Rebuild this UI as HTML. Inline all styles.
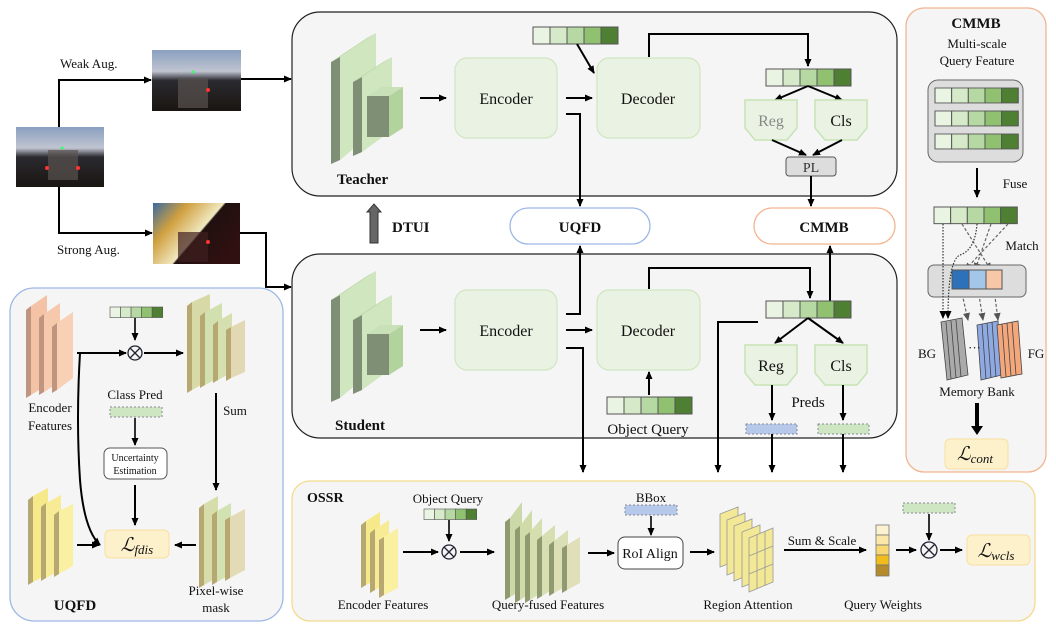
<!DOCTYPE html>
<html><head><meta charset="utf-8"><style>
html,body{margin:0;padding:0;background:#fff}
svg{display:block}
text{font-family:"Liberation Serif",serif;fill:#111}
.b{font-weight:bold}
</style></head><body>
<svg width="1056" height="629" viewBox="0 0 1056 629" xmlns="http://www.w3.org/2000/svg">
<defs>
<marker id="a" markerWidth="8" markerHeight="8" refX="7" refY="4" orient="auto" markerUnits="userSpaceOnUse"><path d="M0,0.5 L8,4 L0,7.5 Z" fill="#000"/></marker>
<marker id="ag" markerWidth="8" markerHeight="8" refX="7" refY="4" orient="auto" markerUnits="userSpaceOnUse"><path d="M0,0.5 L8,4 L0,7.5 Z" fill="#555"/></marker>
<g id="qb">
<rect x="0" y="0" width="17" height="17" fill="#eaf4e3" stroke="#555"/>
<rect x="17" y="0" width="17" height="17" fill="#d6eaca" stroke="#555"/>
<rect x="34" y="0" width="17" height="17" fill="#b6d8a2" stroke="#555"/>
<rect x="51" y="0" width="17" height="17" fill="#8fc171" stroke="#555"/>
<rect x="68" y="0" width="17" height="17" fill="#4e7f32" stroke="#555"/>
</g>
<g id="bb">
<polygon points="0,32 9,27 9,130 0,134" fill="#7e8f76"/>
<polygon points="0,32 36,8 45,3 9,27" fill="#b9d7a6"/>
<polygon points="9,27 45,3 45,100 9,130" fill="#cfe6bf"/>
<polygon points="22,52 31,47 31,122 22,126" fill="#7e8f76"/>
<polygon points="22,52 52,32 61,27 31,47" fill="#b9d7a6"/>
<polygon points="31,47 61,27 61,100 31,122" fill="#cfe6bf"/>
<polygon points="36,66 50,57 72,57 58,66" fill="#c8e1b6"/>
<polygon points="58,66 72,57 72,98 58,107" fill="#b3d39e"/>
<rect x="36" y="66" width="22" height="41" fill="#7e8f76"/>
</g>
<g id="head">
<polygon points="0,0 52,0 52,28 42,40 10,40 0,28" fill="#eaf3e3" stroke="#c7e3b5" stroke-width="1.5"/>
</g>
<linearGradient id="img1" x1="0" y1="0" x2="0" y2="1"><stop offset="0" stop-color="#8aa0c0"/><stop offset="0.35" stop-color="#c0c4d0"/><stop offset="0.5" stop-color="#2a2a30"/><stop offset="1" stop-color="#1a1510"/></linearGradient>
<linearGradient id="img2" x1="0" y1="0" x2="1" y2="0.6"><stop offset="0" stop-color="#3a6aa0"/><stop offset="0.3" stop-color="#d0a040"/><stop offset="0.6" stop-color="#f0e8c0"/><stop offset="0.62" stop-color="#201010"/><stop offset="1" stop-color="#301010"/></linearGradient>
</defs>

<!-- input images -->
<rect x="16" y="127" width="88" height="60" fill="url(#img1)"/>
<rect x="48" y="150" width="30" height="30" fill="#5a5250" opacity="0.7"/>
<circle cx="47" cy="168" r="2" fill="#f33"/><circle cx="78" cy="168" r="2" fill="#f33"/><circle cx="62" cy="148" r="1.5" fill="#3f6"/>
<rect x="152" y="50" width="89" height="61" fill="url(#img1)"/>
<rect x="178" y="78" width="30" height="30" fill="#5a5250" opacity="0.7"/>
<circle cx="208" cy="90" r="2" fill="#f33"/><circle cx="193" cy="72" r="1.5" fill="#3f6"/>
<rect x="153" y="203" width="87" height="61" fill="url(#img2)"/>
<rect x="178" y="232" width="30" height="30" fill="#402020" opacity="0.7"/>
<circle cx="208" cy="242" r="2" fill="#f33"/>
<text x="60" y="68" font-size="13">Weak Aug.</text>
<text x="57" y="254" font-size="13">Strong Aug.</text>
<polyline points="59,127 59,80 151,80" fill="none" stroke="#000" stroke-width="2" marker-end="url(#a)"/>
<polyline points="59,187 59,233 152,233" fill="none" stroke="#000" stroke-width="2" marker-end="url(#a)"/>
<line x1="241" y1="79" x2="291" y2="79" stroke="#000" stroke-width="2" marker-end="url(#a)"/>
<polyline points="240,233 266,233 266,287 291,287" fill="none" stroke="#000" stroke-width="2" marker-end="url(#a)"/>

<!-- Teacher -->
<rect x="292" y="12" width="605" height="184" rx="28" fill="#f5f5f5" stroke="#222" stroke-width="1.2"/>
<use href="#bb" x="331" y="30"/>
<text x="337" y="184" font-size="15" class="b">Teacher</text>
<line x1="420" y1="98" x2="446" y2="98" stroke="#000" stroke-width="2" marker-end="url(#a)"/>
<rect x="455" y="58" width="102" height="80" rx="12" fill="#eaf2e4" stroke="#cfe6c0" stroke-width="1.2"/>
<text x="506" y="104" font-size="16" text-anchor="middle">Encoder</text>
<line x1="566" y1="98" x2="592" y2="98" stroke="#000" stroke-width="2" marker-end="url(#a)"/>
<rect x="597" y="58" width="103" height="80" rx="12" fill="#eaf2e4" stroke="#cfe6c0" stroke-width="1.2"/>
<text x="648" y="104" font-size="16" text-anchor="middle">Decoder</text>
<use href="#qb" x="533" y="27"/>
<line x1="577" y1="44" x2="594" y2="73" stroke="#000" stroke-width="2" marker-end="url(#a)"/>
<polyline points="649,57 649,34 808,34 808,66" fill="none" stroke="#000" stroke-width="2" marker-end="url(#a)"/>
<polyline points="566,114 580,114 580,206" fill="none" stroke="#000" stroke-width="2" marker-end="url(#a)"/>
<use href="#qb" x="766" y="69"/>
<line x1="808" y1="86" x2="775" y2="100" stroke="#000" stroke-width="2" marker-end="url(#a)"/>
<line x1="808" y1="86" x2="842" y2="100" stroke="#000" stroke-width="2" marker-end="url(#a)"/>
<use href="#head" x="745" y="100"/>
<use href="#head" x="815" y="100"/>
<text x="771" y="126" font-size="16" text-anchor="middle" style="fill:#888">Reg</text>
<text x="841" y="126" font-size="16" text-anchor="middle">Cls</text>
<line x1="772" y1="140" x2="806" y2="155" stroke="#000" stroke-width="2" marker-end="url(#a)"/>
<line x1="842" y1="140" x2="813" y2="155" stroke="#000" stroke-width="2" marker-end="url(#a)"/>
<rect x="786" y="157" width="50" height="19" rx="3" fill="#ddd" stroke="#555"/>
<text x="811" y="172" font-size="14" text-anchor="middle" style="fill:#333">PL</text>
<line x1="811" y1="176" x2="811" y2="206" stroke="#000" stroke-width="2" marker-end="url(#a)"/>

<!-- middle -->
<rect x="510" y="208" width="140" height="36" rx="18" fill="#fff" stroke="#9db8e6" stroke-width="1.3"/>
<text x="580" y="232" font-size="15" class="b" text-anchor="middle">UQFD</text>
<rect x="754" y="208" width="141" height="36" rx="18" fill="#fff" stroke="#f3b48f" stroke-width="1.3"/>
<text x="824" y="232" font-size="15" class="b" text-anchor="middle">CMMB</text>
<polygon points="370,243 370,212 367,212 374,204 381,212 378,212 378,243" fill="#666" stroke="#333"/>
<text x="392" y="232" font-size="15" class="b">DTUI</text>

<!-- Student -->
<rect x="292" y="254" width="605" height="184" rx="28" fill="#f5f5f5" stroke="#222" stroke-width="1.2"/>
<use href="#bb" x="331" y="268"/>
<text x="335" y="430" font-size="15" class="b">Student</text>
<line x1="420" y1="330" x2="446" y2="330" stroke="#000" stroke-width="2" marker-end="url(#a)"/>
<rect x="455" y="290" width="102" height="80" rx="12" fill="#eaf2e4" stroke="#cfe6c0" stroke-width="1.2"/>
<text x="506" y="336" font-size="16" text-anchor="middle">Encoder</text>
<line x1="566" y1="330" x2="592" y2="330" stroke="#000" stroke-width="2" marker-end="url(#a)"/>
<rect x="597" y="290" width="103" height="80" rx="12" fill="#eaf2e4" stroke="#cfe6c0" stroke-width="1.2"/>
<text x="648" y="336" font-size="16" text-anchor="middle">Decoder</text>
<polyline points="566,314 580,314 580,246" fill="none" stroke="#000" stroke-width="2" marker-end="url(#a)"/>
<polyline points="566,348 583,348 583,472" fill="none" stroke="#000" stroke-width="2" marker-end="url(#a)"/>
<polyline points="649,289 649,268 810,268 810,298" fill="none" stroke="#000" stroke-width="2" marker-end="url(#a)"/>
<line x1="830" y1="301" x2="830" y2="246" stroke="#000" stroke-width="2" marker-end="url(#a)"/>
<use href="#qb" x="766" y="301"/>
<polyline points="758,322 718,322 718,472" fill="none" stroke="#000" stroke-width="2" marker-end="url(#a)"/>
<line x1="808" y1="318" x2="775" y2="343" stroke="#000" stroke-width="2" marker-end="url(#a)"/>
<line x1="808" y1="318" x2="843" y2="343" stroke="#000" stroke-width="2" marker-end="url(#a)"/>
<use href="#head" x="745" y="345"/>
<use href="#head" x="815" y="345"/>
<text x="771" y="371" font-size="16" text-anchor="middle">Reg</text>
<text x="841" y="371" font-size="16" text-anchor="middle">Cls</text>
<text x="808" y="407" font-size="15" text-anchor="middle">Preds</text>
<line x1="772" y1="385" x2="772" y2="420" stroke="#000" stroke-width="2" marker-end="url(#a)"/>
<line x1="843" y1="385" x2="843" y2="420" stroke="#000" stroke-width="2" marker-end="url(#a)"/>
<rect x="746" y="424" width="51" height="10" fill="#b7c9ea" stroke="#889" stroke-dasharray="2,2"/>
<rect x="818" y="424" width="51" height="10" fill="#cfe6c3" stroke="#889" stroke-dasharray="2,2"/>
<line x1="772" y1="434" x2="772" y2="472" stroke="#000" stroke-width="2" marker-end="url(#a)"/>
<line x1="843" y1="434" x2="843" y2="472" stroke="#000" stroke-width="2" marker-end="url(#a)"/>
<use href="#qb" x="607" y="397"/>
<line x1="649" y1="395" x2="649" y2="372" stroke="#000" stroke-width="2" marker-end="url(#a)"/>
<text x="648" y="434" font-size="15" text-anchor="middle">Object Query</text>

<!-- UQFD panel -->
<rect x="10" y="288" width="273" height="333" rx="24" fill="#f5f5f5" stroke="#9db8e6" stroke-width="1.3"/>
<g>
<polygon points="26,310 31,306 31,395 26,398" fill="#c09580"/><polygon points="31,306 47,295 47,385 31,395" fill="#f4c3a6"/>
<polygon points="39,318 44,314 44,392 39,395" fill="#c09580"/><polygon points="44,314 60,303 60,382 44,392" fill="#f6c9ad"/>
<polygon points="52,327 57,323 57,390 52,393" fill="#c09580"/><polygon points="57,323 73,312 73,378 57,390" fill="#f8d0b5"/>
</g>
<text x="50" y="412" font-size="13" text-anchor="middle">Encoder</text>
<text x="50" y="430" font-size="13" text-anchor="middle">Features</text>
<g transform="translate(110,307) scale(0.62)"><use href="#qb"/></g>
<line x1="135" y1="318" x2="135" y2="340" stroke="#000" stroke-width="1.6" marker-end="url(#a)"/>
<circle cx="135" cy="353" r="7" fill="none" stroke="#223" stroke-width="1.3"/>
<path d="M130,348 L140,358 M140,348 L130,358" stroke="#223" stroke-width="1.3"/>
<line x1="77" y1="353" x2="126" y2="353" stroke="#000" stroke-width="2" marker-end="url(#a)"/>
<path d="M80,353 Q76,420 80,480 Q84,530 100,545" fill="none" stroke="#000" stroke-width="2" marker-end="url(#a)"/>
<line x1="144" y1="353" x2="183" y2="353" stroke="#000" stroke-width="2" marker-end="url(#a)"/>
<g>
<polygon points="187,306 192,302 192,390 187,393" fill="#b6a870"/><polygon points="192,302 210,294 210,380 192,390" fill="#d7d9a6"/>
<polygon points="200,316 205,312 205,385 200,388" fill="#b6a870"/><polygon points="205,312 222,303 222,376 205,385" fill="#d2e0b0"/>
<polygon points="213,325 218,321 218,380 213,383" fill="#b6a870"/><polygon points="218,321 232,313 232,372 218,380" fill="#d6dfb0"/>
<polygon points="226,330 231,327 231,378 226,381" fill="#b6a870"/><polygon points="231,327 245,320 245,372 231,378" fill="#e2d9b4"/>
</g>
<text x="235" y="415" font-size="13" text-anchor="middle">Sum</text>
<line x1="216" y1="393" x2="216" y2="490" stroke="#000" stroke-width="2" marker-end="url(#a)"/>
<text x="135" y="399" font-size="13" text-anchor="middle">Class Pred</text>
<rect x="110" y="407" width="52" height="10" fill="#cfe6c3" stroke="#889" stroke-dasharray="2,2"/>
<line x1="135" y1="418" x2="135" y2="445" stroke="#000" stroke-width="1.6" marker-end="url(#a)"/>
<rect x="104" y="448" width="63" height="31" rx="6" fill="#fff" stroke="#555"/>
<text x="135" y="461" font-size="10" text-anchor="middle">Uncertainty</text>
<text x="135" y="474" font-size="10" text-anchor="middle">Estimation</text>
<line x1="135" y1="485" x2="135" y2="525" stroke="#000" stroke-width="2" marker-end="url(#a)"/>
<rect x="105" y="530" width="64" height="28" rx="5" fill="#fdf1cc" stroke="#f7e0a0"/>
<text x="137" y="551" font-size="19" text-anchor="middle" font-style="italic">ℒ<tspan font-size="13" dy="3">fdis</tspan></text>
<g>
<polygon points="28,500 33,496 33,582 28,585" fill="#b6a870"/><polygon points="33,496 48,488 48,574 33,582" fill="#f6e98a"/>
<polygon points="41,507 46,503 46,578 41,581" fill="#b6a870"/><polygon points="46,503 61,495 61,570 46,578" fill="#f7ec95"/>
<polygon points="54,515 59,511 59,574 54,577" fill="#b6a870"/><polygon points="59,511 73,504 73,566 59,574" fill="#faf0a2"/>
</g>
<line x1="77" y1="545" x2="99" y2="545" stroke="#000" stroke-width="2" marker-end="url(#a)"/>
<line x1="196" y1="545" x2="175" y2="545" stroke="#000" stroke-width="2" marker-end="url(#a)"/>
<g>
<polygon points="199,508 204,504 204,585 199,588" fill="#b6a870"/><polygon points="204,504 218,496 218,577 204,585" fill="#d6ddaa"/>
<polygon points="212,515 217,511 217,582 212,585" fill="#b6a870"/><polygon points="217,511 231,503 231,574 217,582" fill="#d3e2b2"/>
<polygon points="225,520 230,517 230,578 225,581" fill="#b6a870"/><polygon points="230,517 245,509 245,570 230,578" fill="#e2dbb6"/>
</g>
<text x="216" y="595" font-size="13" text-anchor="middle">Pixel-wise</text>
<text x="216" y="612" font-size="13" text-anchor="middle">mask</text>
<text x="75" y="610" font-size="15" class="b" text-anchor="middle">UQFD</text>

<!-- OSSR -->
<rect x="292" y="481" width="743" height="140" rx="18" fill="#f5f5f5" stroke="#f5da8e" stroke-width="1.3"/>
<text x="307" y="502" font-size="14" class="b">OSSR</text>
<text x="448" y="503" font-size="13" text-anchor="middle">Object Query</text>
<g transform="translate(424,509) scale(0.62)"><use href="#qb"/></g>
<line x1="449" y1="520" x2="449" y2="541" stroke="#000" stroke-width="1.6" marker-end="url(#a)"/>
<circle cx="449" cy="552" r="7" fill="none" stroke="#223" stroke-width="1.3"/>
<path d="M444,547 L454,557 M454,547 L444,557" stroke="#223" stroke-width="1.3"/>
<g>
<polygon points="361,525 366,521 366,585 361,588" fill="#b6a870"/><polygon points="366,521 380,512 380,578 366,585" fill="#f6e98a"/>
<polygon points="370,533 375,529 375,590 370,593" fill="#b6a870"/><polygon points="375,529 389,520 389,582 375,590" fill="#f7ec95"/>
<polygon points="379,540 384,537 384,595 379,598" fill="#b6a870"/><polygon points="384,537 398,528 398,588 384,595" fill="#faf0a2"/>
</g>
<line x1="403" y1="552" x2="438" y2="552" stroke="#000" stroke-width="2" marker-end="url(#a)"/>
<line x1="460" y1="552" x2="494" y2="552" stroke="#000" stroke-width="2" marker-end="url(#a)"/>
<text x="383" y="609" font-size="13" text-anchor="middle">Encoder Features</text>
<g>
<polygon points="505,522 510,518 510,597 505,600" fill="#8f9a70"/><polygon points="510,518 522,502 522,590 510,597" fill="#cbd9a8"/>
<polygon points="515,530 520,526 520,600 515,603" fill="#8f9a70"/><polygon points="520,526 532,510 532,592 520,600" fill="#cfdcaa"/>
<polygon points="525,536 530,532 530,600 525,603" fill="#8f9a70"/><polygon points="530,532 542,518 542,592 530,600" fill="#d4dfb0"/>
<polygon points="537,540 542,536 542,596 537,599" fill="#8f9a70"/><polygon points="542,536 555,525 555,588 542,596" fill="#d6deb2"/>
<polygon points="549,545 554,541 554,593 549,596" fill="#8f9a70"/><polygon points="554,541 568,530 568,585 554,593" fill="#dadfb6"/>
<polygon points="562,548 567,545 567,590 562,593" fill="#8f9a70"/><polygon points="567,545 580,537 580,583 567,590" fill="#e0dfba"/>
</g>
<text x="548" y="609" font-size="13" text-anchor="middle">Query-fused Features</text>
<line x1="588" y1="553" x2="614" y2="553" stroke="#000" stroke-width="2" marker-end="url(#a)"/>
<text x="651" y="502" font-size="13" text-anchor="middle">BBox</text>
<rect x="625" y="505" width="52" height="10" fill="#b7c9ea" stroke="#889" stroke-dasharray="2,2"/>
<line x1="651" y1="516" x2="651" y2="535" stroke="#000" stroke-width="1.6" marker-end="url(#a)"/>
<rect x="618" y="537" width="65" height="32" rx="7" fill="#fff" stroke="#444"/>
<text x="650" y="558" font-size="14" text-anchor="middle">RoI Align</text>
<line x1="690" y1="552" x2="714" y2="552" stroke="#000" stroke-width="2" marker-end="url(#a)"/>
<g stroke="#999" stroke-width="0.8">
<polygon points="720,514 738,507 738,560 720,567" fill="#f2e896"/>
<polygon points="727,520 745,513 745,568 727,575" fill="#f2e896"/>
<polygon points="734,526 752,519 752,574 734,581" fill="#f2e896"/>
<polygon points="742,532 760,525 760,580 742,587" fill="#f2e896"/>
<polygon points="749,538 773,528 773,582 749,592" fill="#f2e896"/>
<path d="M757,535 L757,589 M765,531 L765,586 M749,556 L773,546 M749,574 L773,564" fill="none"/>
</g>
<text x="748" y="609" font-size="13" text-anchor="middle">Region Attention</text>
<text x="822" y="545" font-size="13" text-anchor="middle">Sum &amp; Scale</text>
<line x1="784" y1="550" x2="866" y2="550" stroke="#000" stroke-width="2" marker-end="url(#a)"/>
<g stroke="#777" stroke-width="0.8">
<rect x="876" y="525" width="13" height="10" fill="#fcf2cf"/>
<rect x="876" y="535" width="13" height="10" fill="#fbe7a8"/>
<rect x="876" y="545" width="13" height="10" fill="#f8d873"/>
<rect x="876" y="555" width="13" height="10" fill="#f0bd1c"/>
<rect x="876" y="565" width="13" height="11" fill="#b58a2b"/>
</g>
<text x="883" y="609" font-size="13" text-anchor="middle">Query Weights</text>
<line x1="896" y1="550" x2="916" y2="550" stroke="#000" stroke-width="2" marker-end="url(#a)"/>
<rect x="903" y="503" width="52" height="10" fill="#cfe6c3" stroke="#889" stroke-dasharray="2,2"/>
<line x1="929" y1="514" x2="929" y2="540" stroke="#000" stroke-width="1.6" marker-end="url(#a)"/>
<circle cx="929" cy="550" r="8" fill="none" stroke="#223" stroke-width="1.3"/>
<path d="M923,544 L935,556 M935,544 L923,556" stroke="#223" stroke-width="1.3"/>
<line x1="940" y1="550" x2="962" y2="550" stroke="#000" stroke-width="2" marker-end="url(#a)"/>
<rect x="967" y="535" width="63" height="30" rx="5" fill="#fdf1cc" stroke="#f7e0a0"/>
<text x="996" y="557" font-size="19" text-anchor="middle" font-style="italic">ℒ<tspan font-size="13" dy="3">wcls</tspan></text>

<!-- CMMB panel -->
<rect x="906" y="8" width="140" height="464" rx="18" fill="#f5f5f5" stroke="#f3b48f" stroke-width="1.3"/>
<text x="976" y="28" font-size="15" class="b" text-anchor="middle">CMMB</text>
<text x="977" y="48" font-size="13" text-anchor="middle">Multi-scale</text>
<text x="977" y="65" font-size="13" text-anchor="middle">Query Feature</text>
<rect x="928" y="80" width="95" height="82" rx="10" fill="#ddd" stroke="#666"/>
<g transform="translate(935,88) scale(0.98,0.88)"><use href="#qb"/></g>
<g transform="translate(935,111) scale(0.98,0.88)"><use href="#qb"/></g>
<g transform="translate(935,134) scale(0.98,0.88)"><use href="#qb"/></g>
<line x1="977" y1="168" x2="977" y2="197" stroke="#000" stroke-width="2" marker-end="url(#a)"/>
<text x="1015" y="188" font-size="13" text-anchor="middle">Fuse</text>
<g transform="translate(934,207) scale(0.98,0.98)"><use href="#qb"/></g>
<text x="1022" y="250" font-size="13" text-anchor="middle">Match</text>
<g fill="none" stroke="#666" stroke-width="1.2" stroke-dasharray="3,2">
<line x1="962" y1="224" x2="991" y2="270" marker-end="url(#ag)"/>
<line x1="991" y1="224" x2="975" y2="270" marker-end="url(#ag)"/>
<line x1="1008" y1="224" x2="965" y2="270" marker-end="url(#ag)"/>
<line x1="961" y1="289" x2="968" y2="320" marker-end="url(#ag)"/>
<line x1="978" y1="289" x2="983" y2="320" marker-end="url(#ag)"/>
<line x1="994" y1="289" x2="998" y2="320" marker-end="url(#ag)"/>
</g>
<rect x="928" y="265" width="98" height="32" rx="6" fill="#ddd" stroke="#666"/>
<rect x="952" y="270" width="17" height="19" fill="#2d72b8" stroke="#555"/>
<rect x="969" y="270" width="17" height="19" fill="#a4c6e8" stroke="#555"/>
<rect x="986" y="270" width="16" height="19" fill="#f6c8a8" stroke="#555"/>
<g fill="none" stroke="#333" stroke-width="1.2" stroke-dasharray="1.5,1.5">
<line x1="943" y1="224" x2="943" y2="318" marker-end="url(#a)"/>
<path d="M977,224 Q975,250 960,255 Q948,260 948,318" marker-end="url(#a)"/>
</g>
<g stroke="#444" stroke-width="0.8">
<polygon points="941,322 962,318 968,375 947,380" fill="#aaa"/>
<path d="M946,322 L951,379 M951,321 L956,378 M956,320 L961,377" fill="none"/>
<polygon points="977,325 998,321 1002,375 981,380" fill="#8fa9e3"/>
<path d="M982,324 L986,379 M987,323 L991,378 M992,322 L996,377" fill="none"/>
<polygon points="997,325 1018,321 1022,374 1001,378" fill="#f3a77a"/>
<path d="M1002,324 L1006,377 M1007,323 L1011,376 M1012,322 L1016,375" fill="none"/>
</g>
<text x="968" y="352" font-size="13">···</text>
<text x="927" y="358" font-size="13" text-anchor="middle">BG</text>
<text x="1036" y="358" font-size="13" text-anchor="middle">FG</text>
<text x="977" y="396" font-size="13" text-anchor="middle">Memory Bank</text>
<line x1="977" y1="403" x2="977" y2="428" stroke="#000" stroke-width="4"/>
<polygon points="971,426 983,426 977,435" fill="#000"/>
<rect x="945" y="439" width="63" height="30" rx="5" fill="#fdf1cc" stroke="#f7e0a0"/>
<text x="975" y="460" font-size="19" text-anchor="middle" font-style="italic">ℒ<tspan font-size="13" dy="3">cont</tspan></text>
</svg>
</body></html>
